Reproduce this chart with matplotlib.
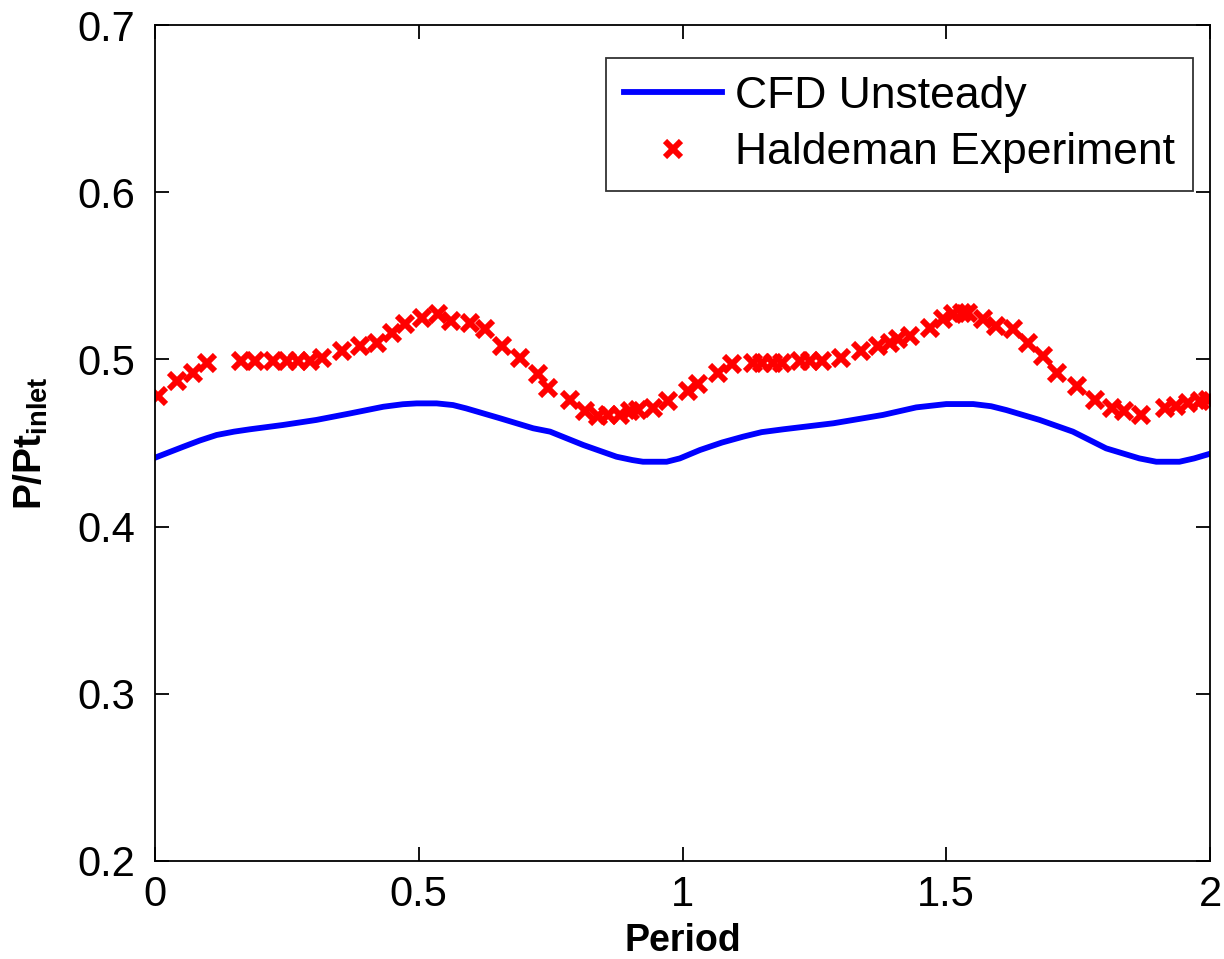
import numpy as np
import matplotlib.pyplot as plt

plt.rcParams['font.family'] = ['Liberation Sans', 'DejaVu Sans']
plt.rcParams['mathtext.fontset'] = 'custom'
plt.rcParams['mathtext.rm'] = 'Liberation Sans'
plt.rcParams['mathtext.bf'] = 'Liberation Sans:bold'

# CFD unsteady static pressure ratio over two periods
cfd_period = [0.0, 0.054, 0.085, 0.117, 0.150, 0.180, 0.243, 0.306, 0.370, 0.433, 0.470,
              0.496, 0.534, 0.565, 0.590, 0.654, 0.717, 0.749, 0.812, 0.875, 0.905,
              0.925, 0.970, 0.995, 1.033, 1.075, 1.115, 1.150, 1.191, 1.286, 1.380,
              1.443, 1.500, 1.551, 1.585, 1.614, 1.677, 1.740, 1.803, 1.866, 1.898,
              1.942, 1.970, 2.0]
cfd_p = [0.4412, 0.4478, 0.4515, 0.4548, 0.4568, 0.4582, 0.4608, 0.4638, 0.4677, 0.4717, 0.4732,
         0.4737, 0.4737, 0.4727, 0.4707, 0.4648, 0.4588, 0.4568, 0.4488, 0.4418, 0.4398,
         0.4388, 0.4388, 0.4408, 0.4458, 0.4503, 0.4538, 0.4565, 0.4582, 0.4618, 0.4668,
         0.4713, 0.4733, 0.4733, 0.4720, 0.4697, 0.4638, 0.4568, 0.4468, 0.4408, 0.4388,
         0.4388, 0.4408, 0.4436]

# Haldeman experiment
exp_period = [0.006, 0.041, 0.072, 0.098, 0.164, 0.190, 0.224, 0.250, 0.272, 0.294,
              0.316, 0.354, 0.389, 0.420, 0.449, 0.474, 0.506, 0.537, 0.562, 0.597,
              0.626, 0.657, 0.692, 0.727, 0.745, 0.786, 0.815, 0.840, 0.859, 0.881,
              0.900, 0.916, 0.944, 0.973, 1.011, 1.030, 1.068, 1.093, 1.134, 1.150,
              1.172, 1.188, 1.222, 1.241, 1.264, 1.301, 1.339, 1.371, 1.393, 1.409,
              1.431, 1.469, 1.494, 1.513, 1.529, 1.541, 1.570, 1.595, 1.627, 1.655,
              1.684, 1.709, 1.747, 1.782, 1.814, 1.836, 1.870, 1.914, 1.936, 1.958,
              1.981, 1.997]
exp_p = [0.478, 0.487, 0.492, 0.498, 0.499, 0.499, 0.499, 0.499, 0.499, 0.499,
         0.501, 0.505, 0.508, 0.510, 0.516, 0.521, 0.525, 0.527, 0.523, 0.522,
         0.518, 0.508, 0.501, 0.491, 0.483, 0.476, 0.469, 0.466, 0.467, 0.467,
         0.469, 0.470, 0.471, 0.475, 0.481, 0.485, 0.492, 0.497, 0.498, 0.498,
         0.498, 0.498, 0.499, 0.499, 0.499, 0.501, 0.505, 0.508, 0.510, 0.512,
         0.514, 0.519, 0.524, 0.527, 0.528, 0.528, 0.524, 0.520, 0.518, 0.510,
         0.502, 0.492, 0.484, 0.476, 0.471, 0.469, 0.467, 0.471, 0.472, 0.474,
         0.475, 0.476]

xticks = [0, 0.5, 1, 1.5, 2]
xticklabels = ['0', '0.5', '1', '1.5', '2']
yticks = [0.2, 0.3, 0.4, 0.5, 0.6, 0.7]

fig = plt.figure(figsize=(12.24, 9.59), dpi=100)
ax = fig.add_axes([0.1266, 0.1022, 0.862, 0.8717])

ax.plot(cfd_period, cfd_p, color='#0000ff', lw=4.2, label='CFD Unsteady')
ax.plot(exp_period, exp_p, ls='none', marker='x', color='#ff0000', ms=12, mew=4.3,
        label='Haldeman Experiment')

ax.set_xlim(0, 2)
ax.set_ylim(0.2, 0.7)
ax.set_xticks(xticks)
ax.set_xticklabels(xticklabels)
ax.set_yticks(yticks)
ax.tick_params(direction='in', length=10, width=1.3, labelsize=30, top=True, right=True)
ax.tick_params(axis='x', pad=10)
ax.tick_params(axis='y', pad=14)
for s in ax.spines.values():
    s.set_linewidth(1.3)

ax.set_xlabel('Period', fontsize=27, fontweight='bold', labelpad=6)
ax.set_ylabel(r'$\mathbf{P/Pt_{inlet}}$', fontsize=28, labelpad=20)

leg = ax.legend(loc='upper right', bbox_to_anchor=(0.984, 0.9605), borderaxespad=0,
                fontsize=32, frameon=True, fancybox=False, edgecolor='black',
                handlelength=2.2, handletextpad=0.3, borderpad=0.4, labelspacing=0.35)
leg.get_frame().set_linewidth(1.3)

fig.savefig('out.png', dpi=100)
